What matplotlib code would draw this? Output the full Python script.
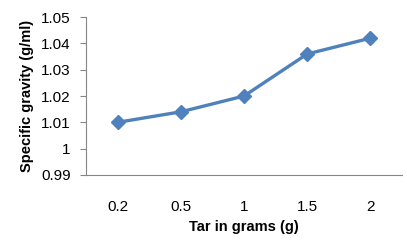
import matplotlib.pyplot as plt

tar_grams = ['0.2', '0.5', '1', '1.5', '2']
specific_gravity = [1.010, 1.014, 1.020, 1.036, 1.042]
y_ticks = [0.99, 1.00, 1.01, 1.02, 1.03, 1.04, 1.05]
y_labels = ['0.99', '1', '1.01', '1.02', '1.03', '1.04', '1.05']

plt.rcParams['font.family'] = ['Liberation Sans', 'DejaVu Sans']

fig = plt.figure(figsize=(4.07, 2.41), dpi=100)
ax = fig.add_axes([0.211, 0.274, 0.777, 0.655])

x = range(len(tar_grams))
ax.plot(x, specific_gravity, color='#4F81BD', linewidth=2.4,
        marker='D', markersize=7, markeredgecolor='#4F81BD')

ax.set_xlim(-0.5, len(tar_grams) - 0.5)
ax.set_ylim(0.99, 1.05)
ax.set_xticks(list(x))
ax.set_xticklabels(tar_grams)
ax.set_yticks(y_ticks)
ax.set_yticklabels(y_labels)

for side in ['top', 'right']:
    ax.spines[side].set_visible(False)
for side in ['left', 'bottom']:
    ax.spines[side].set_color('#868686')
    ax.spines[side].set_linewidth(0.8)

ax.tick_params(axis='y', length=4, color='#868686', labelsize=11, pad=7)
ax.tick_params(axis='x', length=0, labelsize=11, pad=18)

ax.set_xlabel('Tar in grams (g)', fontsize=10.5, fontweight='bold', labelpad=4)
ax.set_ylabel('Specific gravity (g/ml)', fontsize=10.5, fontweight='bold', labelpad=5)

fig.savefig('out.png', dpi=100)
